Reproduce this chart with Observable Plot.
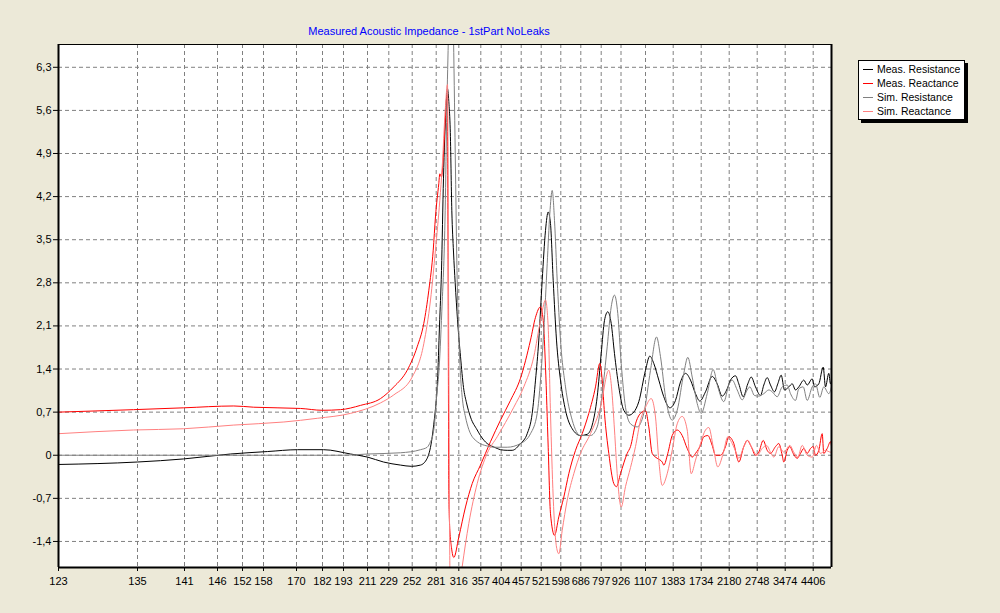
<!DOCTYPE html>
<html>
<head>
<meta charset="utf-8">
<script src="https://cdn.jsdelivr.net/npm/d3@7"></script>
<script src="https://cdn.jsdelivr.net/npm/@observablehq/plot@0.6"></script>
<style>
  html, body { margin: 0; padding: 0; background: #ECE9D8; }
  #wrap { position: relative; width: 1000px; height: 613px; overflow: hidden; font-family: "Liberation Sans", Arial, sans-serif; }
  #title { position: absolute; left: 0; width: 858px; top: 25px; text-align: center; font-size: 11px; line-height: 13px; color: #0000FF; }
  #legend { position: absolute; left: 858px; top: 60px; width: 105px; height: 57px; background: #fff; border: 1px solid #000; box-shadow: 3px 3px 0 #000; font-size: 10.5px; padding-top: 1px; box-sizing: content-box; }
  .row { height: 14px; line-height: 14px; white-space: nowrap; }
  .sw { display: inline-block; width: 10px; height: 1px; vertical-align: middle; margin: 0 4px 0 4px; position: relative; top: -1px; }
  #chart svg { display: block; }
</style>
</head>
<body>
<div id="wrap">
  <div id="chart"></div>
  <div id="title">Measured Acoustic Impedance - 1stPart NoLeaks</div>
  <div id="legend"></div>
</div>
<script>
// Tick labels (frequencies, Hz) shown on the x axis
const tickFreqs = [123,135,141,146,152,158,170,182,193,211,229,252,281,316,357,404,457,521,598,686,797,926,1107,1383,1734,2180,2748,3474,4406];
const xEnd = 5175;
const yTicks = [-1.4,-0.7,0,0.7,1.4,2.1,2.8,3.5,4.2,4.9,5.6,6.3];
const yMin = -1.823, yMax = 6.67;

const seriesNames = ["Meas. Resistance","Meas. Reactance","Sim. Resistance","Sim. Reactance"];
const seriesColors = ["#000000","#FF0000","#808080","#FF8080"];

// [frequency, value]
const measResistance = [[123,-0.15],[135,-0.11],[140.9,-0.06],[149.1,0.02],[159.5,0.06],[170.5,0.09],[182.5,0.09],[198.3,0.02],[211,-0.03],[224.5,-0.11],[240.5,-0.16],[251.3,-0.18],[262,-0.16],[270.1,-0.05],[275.3,0.22],[278.9,0.6],[280.1,0.75],[283,1.2],[286.1,2.1],[289.2,3.0],[292.3,4.5],[295.9,5.59],[298.5,5.95],[300.8,5.7],[302.7,5.3],[305.2,3.97],[307.8,3.3],[310.4,2.8],[314,2.2],[319.2,1.6],[324.8,1.1],[330.4,0.85],[337.8,0.62],[350.3,0.41],[356.4,0.32],[371.7,0.19],[379.3,0.16],[394.8,0.11],[402.4,0.09],[419.9,0.08],[433.2,0.08],[455.1,0.19],[476.2,0.35],[492.2,0.68],[502.8,1.22],[513.3,1.87],[524.9,2.84],[537.9,3.65],[548.5,3.95],[557.5,3.76],[568.1,2.84],[581.1,1.87],[596.8,1.22],[618.7,0.73],[648.2,0.43],[684.7,0.32],[720.8,0.34],[748,0.49],[775.2,0.95],[797,1.65],[818.5,2.19],[840,2.33],[862.2,2.14],[883.6,1.65],[911.7,1.11],[946.7,0.73],[983.6,0.65],[1020.6,0.7],[1057.5,0.87],[1107,1.38],[1149.8,1.61],[1189.7,1.49],[1239.5,1.22],[1289.3,0.95],[1349.1,0.77],[1411.8,0.89],[1474.5,1.19],[1537.2,1.33],[1599.9,1.22],[1662.6,1.0],[1716.5,0.88],[1802.5,1.03],[1909.2,1.28],[1988.9,1.16],[2068.5,0.96],[2148.2,1.08],[2206.4,1.22],[2307.8,1.29],[2374.7,1.16],[2464,0.95],[2557.3,1.16],[2626.3,1.27],[2713.5,1.11],[2833.6,0.97],[2919.1,1.14],[3007.3,1.26],[3092.9,1.14],[3196.6,1.03],[3282.1,1.16],[3370.3,1.3],[3455.9,1.06],[3593.8,1.11],[3707,1.16],[3816.8,1.06],[3926.7,1.11],[4093.1,1.22],[4206.3,1.14],[4372.7,1.24],[4460.6,1.11],[4641.2,1.16],[4826,1.43],[4922.6,1.11],[5061.2,1.33],[5132.6,1.16],[5175,1.2]];

const measReactance = [[123,0.7],[134.4,0.74],[140.9,0.77],[149.9,0.8],[155.2,0.78],[171.8,0.76],[181.9,0.73],[191.4,0.74],[205.8,0.81],[222,0.92],[233.9,1.11],[247.1,1.38],[258,1.76],[266,2.14],[272.1,2.68],[277.4,3.33],[280.1,3.87],[285,4.41],[286.6,4.57],[289.2,4.52],[292.3,4.9],[295.4,5.5],[297.7,5.85],[299.3,3.5],[300.5,-0.5],[301.6,-1.1],[304.7,-1.5],[308.3,-1.66],[316,-1.33],[328.5,-0.84],[341,-0.46],[356.4,-0.16],[379.3,0.22],[402.4,0.57],[428.6,0.89],[455.1,1.25],[486.8,1.87],[502.8,2.24],[518.8,2.41],[528.9,2.19],[537.9,1.43],[548.5,0.13],[557.5,-0.95],[573.3,-1.3],[590.2,-1.0],[611.2,-0.68],[633.2,-0.3],[662.7,0.08],[693.6,0.35],[729.5,0.68],[766,1.11],[789.4,1.49],[803.5,1.22],[818.5,0.68],[846.5,0.03],[879.1,-0.46],[896.7,-0.51],[922.7,-0.3],[971.8,0.03],[996.2,0.14],[1033.1,0.51],[1070.1,0.68],[1107,0.72],[1139.9,0.46],[1173.8,0.03],[1223.6,-0.05],[1273.4,-0.11],[1289.3,-0.16],[1329.2,0.03],[1373,0.32],[1433.1,0.41],[1495.8,0.32],[1558.5,0.11],[1621.2,-0.03],[1662.6,0.03],[1725.2,0.16],[1775.4,0.3],[1839.1,0.32],[1909.2,0.16],[1961.8,0],[2041.4,0],[2121.1,0.14],[2173.6,0.3],[2273.3,0.19],[2342.3,-0.05],[2374.7,-0.11],[2476.2,0.14],[2545.1,0.24],[2626.3,0.14],[2713.5,0],[2789.5,0.05],[2903.6,0.24],[3007.3,0.08],[3092.9,0.03],[3222.5,0.14],[3308.1,0.19],[3396.2,0],[3437.7,-0.11],[3540.6,0.08],[3627.1,0.14],[3740.3,0.03],[3873.4,-0.05],[3983.3,0.03],[4093.1,0.11],[4206.3,0.03],[4316.1,0.11],[4406,0.14],[4502.6,0],[4641.2,0.08],[4784,0.35],[4851.2,0.03],[4994,0.11],[5132.6,0.22],[5175,0.15]];

const simResistance = [[123,0],[135,0],[146,0],[170,0],[193,0],[211,0.02],[240.5,0.04],[262,0.09],[270.1,0.13],[274.1,0.22],[276.5,0.3],[278.9,0.5],[281.9,0.99],[285,1.33],[289.7,2.34],[294.9,3.97],[297.4,5.59],[300.1,6.9],[303.9,9.0],[307.8,6.8],[310.9,4.6],[313.2,3.0],[315.5,2.1],[319.2,1.3],[322.9,0.9],[328.5,0.62],[334.6,0.42],[350.3,0.22],[371.7,0.15],[387,0.13],[419.9,0.13],[455.1,0.19],[486.8,0.35],[508.2,0.68],[518.8,1.22],[531.2,2.03],[544.6,3.11],[554.8,3.92],[564.2,4.3],[573.3,3.81],[583.9,2.84],[596.8,1.87],[618.7,1.11],[648.2,0.57],[684.7,0.32],[738.8,0.32],[775.2,0.46],[803.5,1.0],[836.1,1.76],[862.2,2.41],[883.6,2.6],[905.1,2.3],[927.5,1.49],[959.2,0.78],[996.2,0.51],[1045.7,0.46],[1094.4,0.68],[1156.8,1.38],[1216.6,1.92],[1256.5,1.6],[1306.3,0.95],[1373,0.57],[1433.1,0.73],[1515.9,1.33],[1566,1.59],[1621.2,1.27],[1683.9,0.84],[1734,0.68],[1829.6,1.0],[1925.1,1.39],[1998.4,1.11],[2094,0.87],[2173.6,1.14],[2240.9,1.22],[2342.3,1.06],[2443.7,0.9],[2545.1,1.06],[2597.9,1.11],[2693.2,0.97],[2789.5,0.96],[2919.1,1.0],[3048.8,1.06],[3136.9,1.03],[3266.6,0.95],[3396.2,1.11],[3540.6,1.14],[3650.4,1.0],[3816.8,0.89],[3926.7,1.08],[4073.1,1.11],[4206.3,0.89],[4372.7,1.11],[4502.6,1.16],[4683.2,0.94],[4851.2,1.11],[5061.2,1.0],[5175,1.11]];

const simReactance = [[123,0.35],[134.4,0.41],[140.9,0.43],[149.9,0.49],[165.4,0.54],[179.6,0.6],[198.3,0.68],[222,0.85],[233.9,0.98],[252,1.27],[266,1.81],[274.1,2.52],[280.1,3.33],[286.6,4.14],[290.3,4.68],[294.9,5.59],[298.5,6.02],[300.4,2.0],[301.6,-1.0],[302.7,-2.2],[306,-2.8],[315,-2.3],[322.3,-1.81],[334.6,-1.11],[350.3,-0.46],[371.7,0.03],[394.8,0.3],[437.4,0.78],[465.3,1.11],[497.3,1.6],[518.8,2.19],[537.9,2.52],[548.5,2.08],[557.5,0.68],[568.1,-0.68],[581.1,-1.49],[590.2,-1.6],[604.2,-1.22],[626.2,-0.73],[655.2,-0.3],[684.7,0.03],[738.8,0.35],[793.2,0.78],[846.5,1.38],[864.1,1.11],[883.6,0.41],[901.2,-0.3],[927.5,-0.84],[959.2,-0.51],[996.2,-0.2],[1033.1,0.14],[1070.1,0.57],[1107,0.78],[1163.8,0.92],[1206.6,0.62],[1239.5,-0.08],[1273.4,-0.49],[1323.2,-0.3],[1373,0.08],[1433.1,0.51],[1495.8,0.63],[1558.5,0.41],[1608.6,-0.3],[1662.6,-0.08],[1725.2,0.19],[1802.5,0.41],[1855.1,0.45],[1925.1,0.14],[1998.4,-0.19],[2084.4,0.03],[2157.7,0.3],[2240.9,0.19],[2328.1,0.03],[2374.7,-0.05],[2476.2,0.14],[2557.3,0.24],[2646.6,0.11],[2748,0],[2877.6,0.11],[2989.1,0.16],[3092.9,0.05],[3178.4,-0.03],[3308.1,0.14],[3437.7,0.05],[3627.1,0.16],[3760.3,0.05],[3893.4,-0.03],[4039.9,0.16],[4206.3,0],[4372.7,-0.03],[4544.6,0.16],[4712.6,0.03],[4922.6,0.08],[5132.6,0.05],[5175,0.05]];

const allSeries = [measResistance, measReactance, simResistance, simReactance];
const toRows = (arr) => arr.map(([f, v]) => ({f, v}));

const gridStyle = {stroke: "#808080", strokeOpacity: 1, strokeDasharray: "4,3", strokeWidth: 1};

const chart = Plot.plot({
  width: 1000,
  height: 613,
  marginLeft: 58,
  marginRight: 169,
  marginTop: 44,
  marginBottom: 46,
  style: {background: "#ECE9D8", fontFamily: "'Liberation Sans', Arial, sans-serif", fontSize: "11px", color: "#000", overflow: "visible"},
  x: {
    type: "linear",
    domain: [...tickFreqs, xEnd],
    range: [58,137,184,217,242,263,296,322,343,367,388.3,411.7,435.7,458.3,480.3,500.7,520.7,540.7,560.3,580.3,600.7,620.5,645,672.7,700.7,728.7,756.7,784.7,812.7,831],
    ticks: tickFreqs,
    tickFormat: d => String(d),
    tickSize: 4,
    tickPadding: 6,
    label: null
  },
  y: {
    domain: [yMin, yMax],
    ticks: yTicks,
    tickFormat: d => d === 0 ? "0" : d.toFixed(1).replace(".", ","),
    tickSize: 5,
    tickPadding: 2,
    label: null
  },
  marks: [
    Plot.frame({fill: "#FFFFFF", stroke: null}),
    Plot.ruleY(yTicks, gridStyle),
    Plot.ruleX(tickFreqs.slice(1), gridStyle),
    ...allSeries.map((s, i) => Plot.line(toRows(s), {x: "f", y: "v", stroke: seriesColors[i], strokeWidth: 1, curve: "monotone-x", clip: true})),
    Plot.ruleY([yMax], {stroke: "#000", strokeWidth: 1}),
    Plot.ruleY([yMin], {stroke: "#000", strokeWidth: 2}),
    Plot.ruleX([tickFreqs[0]], {stroke: "#000", strokeWidth: 2}),
    Plot.ruleX([xEnd], {stroke: "#000", strokeWidth: 2})
  ]
});
document.getElementById("chart").appendChild(chart);

const legend = document.getElementById("legend");
seriesNames.forEach((name, i) => {
  const row = document.createElement("div");
  row.className = "row";
  const sw = document.createElement("span");
  sw.className = "sw";
  sw.style.background = seriesColors[i];
  row.appendChild(sw);
  row.appendChild(document.createTextNode(name));
  legend.appendChild(row);
});
</script>
</body>
</html>
